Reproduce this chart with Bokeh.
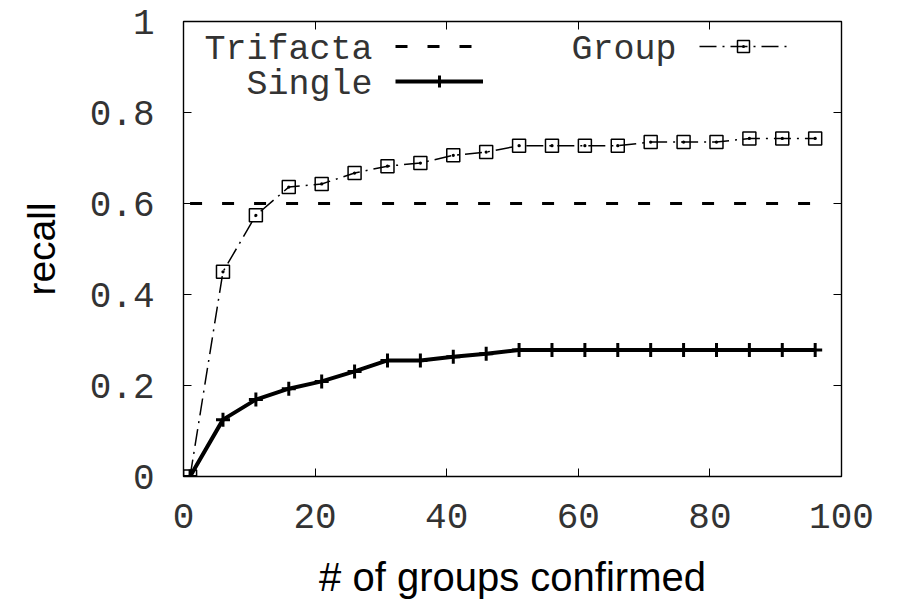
from bokeh.plotting import figure
from bokeh.models import (Legend, LegendItem, LinearAxis, FixedTicker,
                          NumeralTickFormatter, Range1d, Label)
from bokeh.embed import file_html
from bokeh.resources import INLINE

# ---- data ----
groups_confirmed = [1, 6, 11, 16, 21, 26, 31, 36, 41, 46,
                    51, 56, 61, 66, 71, 76, 81, 86, 91, 96]
single_recall = [0.0, 0.125, 0.169, 0.193, 0.209, 0.231, 0.255, 0.255, 0.263, 0.270,
                 0.278, 0.278, 0.278, 0.278, 0.278, 0.278, 0.278, 0.278, 0.278, 0.278]
group_recall = [0.0, 0.450, 0.574, 0.636, 0.643, 0.667, 0.682, 0.689, 0.706, 0.713,
                0.727, 0.727, 0.727, 0.727, 0.735, 0.735, 0.735, 0.743, 0.743, 0.743]
trifacta_x = [1, 98]
trifacta_recall = [0.6, 0.6]
x_ticks = [0, 20, 40, 60, 80, 100]
y_ticks = [0, 0.2, 0.4, 0.6, 0.8, 1.0]
series_names = ["Trifacta", "Group", "Single"]

MONO = "Liberation Mono"
SANS = "Liberation Sans"
TXT = "#333333"

p = figure(width=881, height=601,
           x_range=Range1d(0, 100), y_range=Range1d(0, 1),
           output_backend="svg", toolbar_location=None,
           min_border_left=183, min_border_right=40,
           min_border_top=21, min_border_bottom=125,
           background_fill_color="white", border_fill_color="white")

p.xgrid.grid_line_color = None
p.ygrid.grid_line_color = None
p.outline_line_color = "black"
p.outline_line_width = 1.4

tick_style = dict(axis_line_color=None, major_tick_in=8, major_tick_out=0,
                  major_tick_line_color="black", minor_tick_line_color=None)

xa = p.xaxis[0]
xa.update(**tick_style)
xa.ticker = FixedTicker(ticks=x_ticks)
xa.major_label_text_font = MONO
xa.major_label_text_font_size = "36px"
xa.major_label_text_color = TXT
xa.major_label_standoff = 27
xa.axis_label = "# of groups confirmed"
xa.axis_label_text_font = SANS
xa.axis_label_text_font_style = "normal"
xa.axis_label_text_color = "black"
xa.axis_label_text_font_size = "40px"
xa.axis_label_standoff = 24

ya = p.yaxis[0]
ya.update(**tick_style)
ya.ticker = FixedTicker(ticks=y_ticks)
ya.formatter = NumeralTickFormatter(format="0.[0]")
ya.major_label_text_font = MONO
ya.major_label_text_font_size = "36px"
ya.major_label_text_color = TXT
ya.major_label_standoff = 29
ya.axis_label = "recall"
ya.axis_label_text_font = SANS
ya.axis_label_text_font_style = "normal"
ya.axis_label_text_color = "black"
ya.axis_label_text_font_size = "39px"
ya.axis_label_standoff = 24

# mirrored ticks on the right and top (no labels drawn)
right_ax = LinearAxis(ticker=FixedTicker(ticks=y_ticks), major_label_text_color=None,
                      major_label_standoff=0, **tick_style)
top_ax = LinearAxis(ticker=FixedTicker(ticks=x_ticks), major_label_text_color=None,
                    major_label_standoff=0, **tick_style)
p.add_layout(right_ax, "right")
p.add_layout(top_ax, "above")

# ---- series ----
tri = p.line(trifacta_x, trifacta_recall, line_color="black", line_width=3,
             line_dash="12 20")
grp_line = p.line(groups_confirmed, group_recall, line_color="black",
                  line_width=1.5, line_dash="17 6 2 6")
grp_pts = p.scatter(groups_confirmed, group_recall, marker="square_dot", size=13,
                    fill_color=None, line_color="black", line_width=1.5)
sgl_line = p.line(groups_confirmed, single_recall, line_color="black", line_width=4)
sgl_pts = p.scatter(groups_confirmed, single_recall, marker="cross", size=14,
                    line_color="black", line_width=3)

# ---- legend: gnuplot style (text, then sample) ----
common = dict(glyph_width=88, glyph_height=30, label_text_font_size="8px",
              label_text_color=None, padding=0, margin=0, spacing=5,
              background_fill_alpha=0, border_line_color=None)
leg_a = Legend(items=[LegendItem(label=series_names[0], renderers=[tri]),
                      LegendItem(label=series_names[2], renderers=[sgl_line, sgl_pts])],
               location=(212, 380), **common)
leg_b = Legend(items=[LegendItem(label=series_names[1], renderers=[grp_line, grp_pts])],
               location=(516, 415), **common)
p.add_layout(leg_a)
p.add_layout(leg_b)

lab = dict(x_units="screen", y_units="screen", text_align="right",
           text_baseline="alphabetic", text_font=MONO, text_font_size="35px",
           text_color=TXT)
p.add_layout(Label(x=189, y=427, text=series_names[0], **lab))
p.add_layout(Label(x=189, y=392, text=series_names[2], **lab))
p.add_layout(Label(x=493, y=427, text=series_names[1], **lab))

open("out.html", "w").write(file_html(p, INLINE))
